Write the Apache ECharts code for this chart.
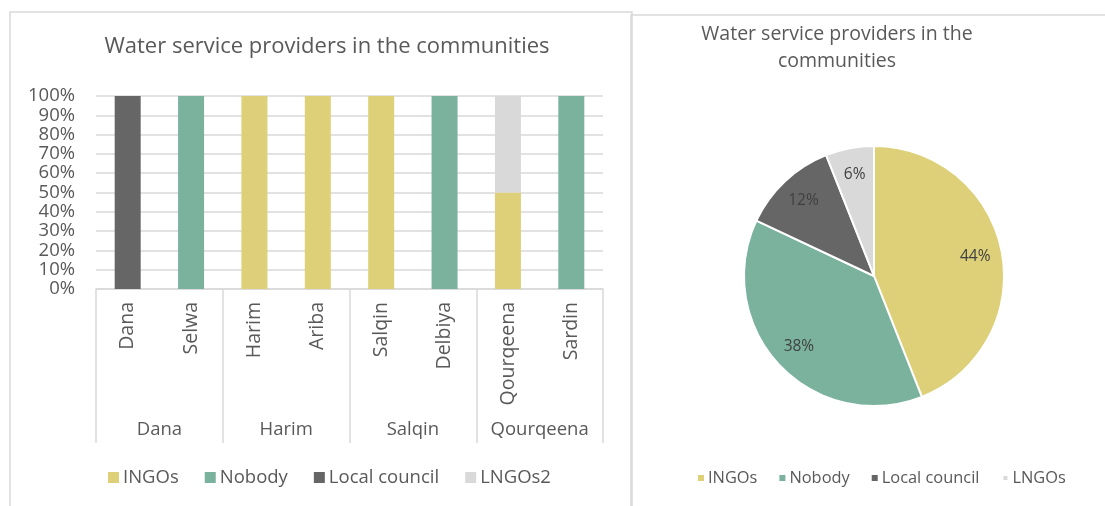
<!DOCTYPE html>
<html>
<head>
<meta charset="utf-8">
<script src="https://cdn.jsdelivr.net/npm/echarts@6/dist/echarts.min.js"></script>
<style>
  html, body { margin: 0; padding: 0; background: #fff; }
  #chart { width: 1105px; height: 506px; }
</style>
</head>
<body>
<div id="chart"></div>
<script>
// Communities, grouped by district
const communities = ['Dana', 'Selwa', 'Harim', 'Ariba', 'Salqin', 'Delbiya', 'Qourqeena', 'Sardin'];
const districts = ['Dana', 'Harim', 'Salqin', 'Qourqeena'];

// Share of each provider per community (%)
const ingos = [0, 0, 100, 100, 100, 0, 50, 0];
const nobody = [0, 100, 0, 0, 0, 100, 0, 100];
const localCouncil = [100, 0, 0, 0, 0, 0, 0, 0];
const lngos2 = [0, 0, 0, 0, 0, 0, 50, 0];

// Overall share of providers (%)
const pieNames = ['INGOs', 'Nobody', 'Local council', 'LNGOs'];
const pieValues = [44, 38, 12, 6];

const COLORS = {
  'INGOs': '#DDD078',
  'Nobody': '#7AB29E',
  'Local council': '#666666',
  'LNGOs2': '#D9D9D9',
  'LNGOs': '#D9D9D9'
};
const FONT = 'Open Sans';
const TXT = '#595959';
const LINE = '#D9D9D9';
const AXIS_FS = 18.5;

const chart = echarts.init(document.getElementById('chart'), null, { renderer: 'canvas' });

const barSeries = [
  ['INGOs', ingos],
  ['Nobody', nobody],
  ['Local council', localCouncil],
  ['LNGOs2', lngos2]
].map(([name, data]) => ({
  name,
  type: 'bar',
  stack: 'share',
  xAxisIndex: 0,
  yAxisIndex: 0,
  barWidth: 26,
  itemStyle: { color: COLORS[name] },
  data
}));

const pieData = pieNames.map((n, i) => ({ name: n, value: pieValues[i], itemStyle: { color: COLORS[n] } }));

chart.setOption({
  animation: false,
  textStyle: { fontFamily: FONT },
  graphic: [
    { type: 'rect', shape: { x: 10, y: 12, width: 622, height: 520 }, style: { fill: 'none', stroke: LINE, lineWidth: 1.5 }, z: -1 },
    { type: 'rect', shape: { x: 631, y: 15, width: 500, height: 520 }, style: { fill: 'none', stroke: LINE, lineWidth: 1.5 }, z: -1 }
  ],
  title: [
    {
      text: 'Water service providers in the communities',
      left: 322, top: 31, textAlign: 'center',
      textStyle: { fontFamily: FONT, fontSize: 22, fontWeight: 'normal', color: TXT }
    },
    {
      text: 'Water service providers in the\ncommunities',
      left: 832, top: 16, textAlign: 'center',
      textStyle: { fontFamily: FONT, fontSize: 19.5, fontWeight: 'normal', color: TXT, lineHeight: 27 }
    }
  ],
  legend: [
    {
      data: ['INGOs', 'Nobody', 'Local council', 'LNGOs2'],
      left: 103, top: 463,
      icon: 'rect', itemWidth: 11, itemHeight: 11, itemGap: 26,
      textStyle: { fontFamily: FONT, fontSize: AXIS_FS, color: TXT, padding: [0, 0, 0, -1] }
    },
    {
      data: pieNames,
      left: 693, top: 465,
      icon: 'rect', itemWidth: 6, itemHeight: 6, itemGap: 22,
      textStyle: { fontFamily: FONT, fontSize: 16.4, color: TXT, padding: [0, 0, 0, -1] }
    }
  ],
  grid: [{ left: 96, right: 502, top: 96, bottom: 217 }],
  xAxis: [
    {
      type: 'category', gridIndex: 0, data: communities,
      axisLine: { show: true, lineStyle: { color: LINE, width: 1.5 } },
      axisTick: { show: false },
      axisLabel: { interval: 0, rotate: 90, margin: 13, fontFamily: FONT, fontSize: 19.5, color: TXT }
    },
    {
      type: 'category', gridIndex: 0, position: 'bottom', data: districts,
      axisLine: { show: false },
      axisTick: { show: true, interval: 0, length: 154, lineStyle: { color: LINE, width: 1.5 } },
      axisLabel: { interval: 0, margin: 131, fontFamily: FONT, fontSize: AXIS_FS, color: TXT }
    }
  ],
  yAxis: [{
    type: 'value', gridIndex: 0, min: 0, max: 100, interval: 10,
    axisLine: { show: false }, axisTick: { show: false },
    splitLine: { lineStyle: { color: LINE, width: 1.5 } },
    axisLabel: { formatter: '{value}%', margin: 21, fontFamily: FONT, fontSize: AXIS_FS, color: TXT }
  }],
  series: [
    ...barSeries,
    {
      name: 'Providers',
      type: 'pie',
      center: [874, 276],
      radius: 130,
      startAngle: 90,
      clockwise: true,
      label: { show: false },
      labelLine: { show: false },
      itemStyle: { borderColor: '#fff', borderWidth: 2 },
      emphasis: { disabled: true },
      data: pieData
    },
    {
      // label ring placing the percentages near the rim
      name: 'Providers labels',
      type: 'pie',
      center: [874, 276],
      radius: [70, 130],
      startAngle: 90,
      clockwise: true,
      silent: true,
      itemStyle: { color: 'rgba(0,0,0,0)', borderWidth: 0 },
      label: { show: true, position: 'inside', formatter: '{c}%', fontFamily: FONT, fontSize: 15.5, color: '#404040' },
      labelLine: { show: false },
      legendHoverLink: false,
      data: pieNames.map((n, i) => ({ name: n, value: pieValues[i] }))
    }
  ]
});
</script>
</body>
</html>
